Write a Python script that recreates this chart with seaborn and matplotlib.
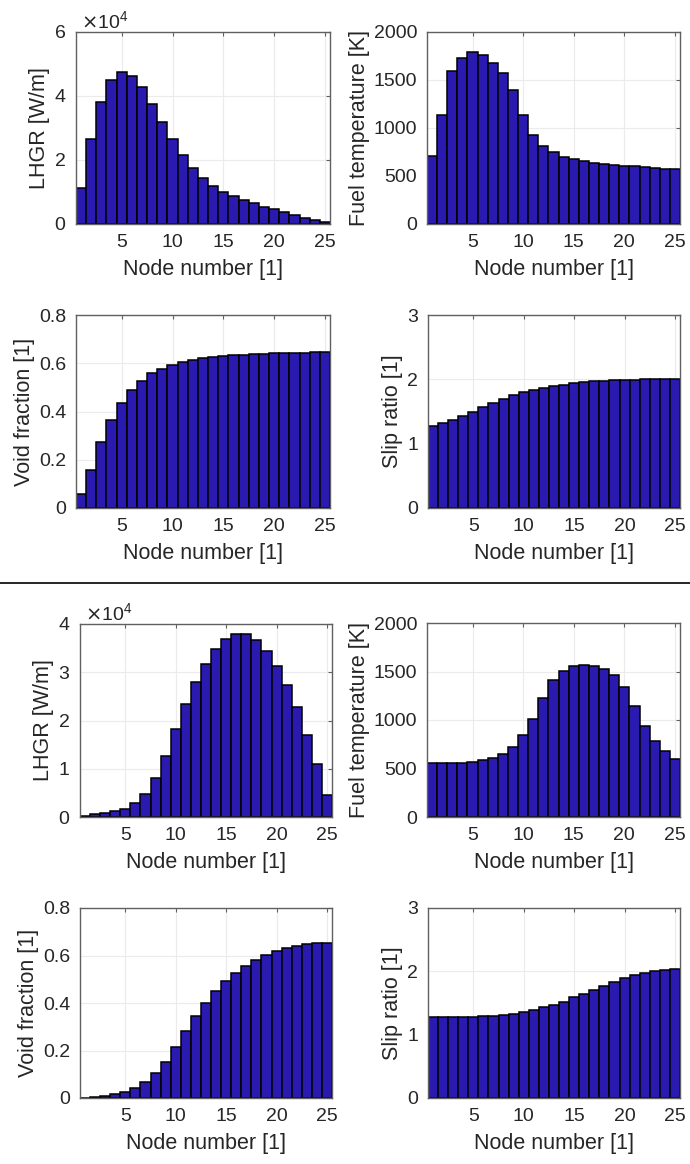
import numpy as np
import pandas as pd
import matplotlib
matplotlib.use("Agg")
import matplotlib.pyplot as plt
import seaborn as sns
from matplotlib.ticker import ScalarFormatter

sns.set_style("white")
plt.rcParams['font.family'] = ['Liberation Sans', 'DejaVu Sans']

nodes = list(range(1, 26))

# Case A (top block)
lhgr_a = [11400, 26500, 38100, 44900, 47500, 46200, 42800, 37600, 31900, 26500,
          21600, 17500, 14400, 11900, 10100, 8600, 7400, 6500, 5400, 4600,
          3700, 2800, 2000, 1300, 600]
tfuel_a = [706, 1137, 1597, 1729, 1791, 1760, 1680, 1572, 1398, 1137,
           932, 817, 748, 703, 678, 657, 640, 626, 616, 609,
           602, 591, 588, 577, 570]
void_a = [0.057, 0.159, 0.274, 0.365, 0.437, 0.491, 0.527, 0.558, 0.577, 0.592,
          0.605, 0.613, 0.620, 0.626, 0.630, 0.633, 0.635, 0.637, 0.639, 0.641,
          0.642, 0.644, 0.644, 0.645, 0.646]
slip_a = [1.277, 1.323, 1.370, 1.432, 1.495, 1.567, 1.629, 1.697, 1.749, 1.796,
          1.837, 1.868, 1.894, 1.915, 1.936, 1.951, 1.967, 1.977, 1.982, 1.988,
          1.993, 1.998, 2.003, 2.003, 2.008]

# Case B (bottom block)
lhgr_b = [300, 700, 900, 1200, 1700, 2800, 4800, 8000, 12700, 18200,
          23400, 28000, 31800, 34800, 36900, 38000, 37900, 36700, 34500, 31300,
          27300, 22700, 17000, 11000, 4600]
tfuel_b = [559, 559, 559, 559, 572, 586, 607, 652, 724, 841,
           1014, 1231, 1410, 1510, 1555, 1566, 1555, 1528, 1462, 1341,
           1145, 938, 783, 679, 600]
void_b = [0.001, 0.004, 0.008, 0.015, 0.027, 0.042, 0.068, 0.104, 0.153, 0.215,
          0.283, 0.346, 0.402, 0.450, 0.492, 0.527, 0.557, 0.582, 0.602, 0.617,
          0.630, 0.640, 0.647, 0.651, 0.654]
slip_b = [1.286, 1.286, 1.286, 1.286, 1.286, 1.290, 1.297, 1.310, 1.334, 1.365,
          1.386, 1.430, 1.470, 1.520, 1.590, 1.650, 1.710, 1.770, 1.830, 1.890,
          1.940, 1.980, 2.010, 2.020, 2.030]

ylabels = ["LHGR [W/m]", "Fuel temperature [K]", "Void fraction [1]", "Slip ratio [1]"]
xlabel = "Node number [1]"
xticks = [5, 10, 15, 20, 25]

W, H = 690, 1164
fig = plt.figure(figsize=(W / 100, H / 100), dpi=100)

# axes boxes in pixels: (left, top, right, bottom)
boxes = [
    (76, 32, 330, 224), (427, 32, 680, 224),
    (76, 315, 330, 508), (428, 315, 680, 508),
    (80, 624, 332, 817), (427, 623, 680, 817),
    (80, 908, 332, 1098), (428, 908, 680, 1098),
]

panels = [
    (lhgr_a, ylabels[0], (0, 60000), [0, 20000, 40000, 60000]),
    (tfuel_a, ylabels[1], (0, 2000), [0, 500, 1000, 1500, 2000]),
    (void_a, ylabels[2], (0, 0.8), [0, 0.2, 0.4, 0.6, 0.8]),
    (slip_a, ylabels[3], (0, 3), [0, 1, 2, 3]),
    (lhgr_b, ylabels[0], (0, 40000), [0, 10000, 20000, 30000, 40000]),
    (tfuel_b, ylabels[1], (0, 2000), [0, 500, 1000, 1500, 2000]),
    (void_b, ylabels[2], (0, 0.8), [0, 0.2, 0.4, 0.6, 0.8]),
    (slip_b, ylabels[3], (0, 3), [0, 1, 2, 3]),
]

bar_color = "#2a1ab0"
axis_color = "#606060"
text_color = "#262626"

for (l, t, r, b), (vals, ylab, ylim, yticks) in zip(boxes, panels):
    ax = fig.add_axes([l / W, 1 - b / H, (r - l) / W, (b - t) / H])
    df = pd.DataFrame({"node": nodes, "value": vals})
    sns.barplot(data=df, x="node", y="value", native_scale=True, width=1.0,
                color=bar_color, saturation=1, edgecolor="black", linewidth=1.1,
                ax=ax, zorder=2)
    ax.set_xlim(0.5, 25.5)
    ax.set_ylim(*ylim)
    ax.set_xticks(xticks)
    ax.set_yticks(yticks)
    ax.set_axisbelow(True)
    ax.grid(True, color="#ebebeb", linewidth=0.8, zorder=0)
    ax.tick_params(direction="in", length=3, width=0.8, top=True, right=True,
                   labelsize=14, colors=axis_color, labelcolor=text_color,
                   pad=7)
    for sp in ax.spines.values():
        sp.set_visible(True)
        sp.set_color(axis_color)
        sp.set_linewidth(1.0)
        sp.set_zorder(3)
    ax.set_xlabel(xlabel, fontsize=15.5, color=text_color, labelpad=6)
    ax.set_ylabel(ylab, fontsize=15.5, color=text_color, labelpad=3)
    if ylim[1] >= 10000:
        fmt = ScalarFormatter(useMathText=True)
        fmt.set_powerlimits((0, 0))
        ax.yaxis.set_major_formatter(fmt)
        ax.yaxis.get_offset_text().set_fontsize(14)
        ax.yaxis.get_offset_text().set_color(text_color)
        ax.yaxis.get_offset_text().set_x(0.02)
    else:
        ax.yaxis.set_major_formatter(matplotlib.ticker.FuncFormatter(
            lambda v, p: ("%g" % v)))

# separator line between the two blocks
fig.add_artist(plt.Line2D([0, 1], [1 - 583 / H, 1 - 583 / H], color="black",
                          linewidth=1.2, transform=fig.transFigure))

fig.savefig("out.png", dpi=100, facecolor="white")
